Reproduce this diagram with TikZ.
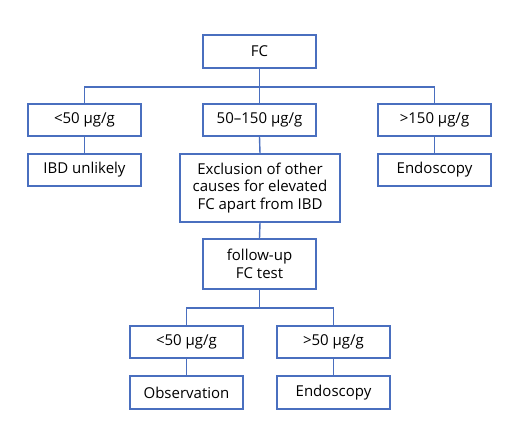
\documentclass[tikz,border=0pt]{standalone}
\usepackage{fontspec}
\setmainfont{Open Sans}
\definecolor{boxblue}{HTML}{4A6FBF}
\begin{document}
\begin{tikzpicture}[x=1pt,y=-1pt,
  box/.style={draw=boxblue,line width=1.4pt,fill=white,inner sep=0pt,align=center,font=\fontsize{15}{17.5}\selectfont},
  conn/.style={draw=boxblue,line width=1.4pt}]
\useasboundingbox[fill=white] (0,0) rectangle (520,444);
% helper: box by corners
\newcommand{\bx}[6]{\node[box,minimum width=#4-#2,minimum height=#5-#3] (#1) at ({(#2+#4)/2},{(#3+#5)/2}) {#6};}
\bx{fc}{203}{35}{316}{68}{FC}
\bx{lo}{28}{104}{141}{136}{<50 µg/g}
\bx{mid}{203}{104}{316}{136}{50–150 µg/g}
\bx{hi}{378}{104}{491}{136}{>150 µg/g}
\bx{ibd}{28}{154}{141}{186}{IBD unlikely}
\bx{excl}{180}{154}{340}{222}{Exclusion of other\\causes for elevated\\FC apart from IBD}
\bx{endo}{378}{154}{491}{186}{Endoscopy}
\bx{fu}{203}{239}{316}{289}{follow-up\\FC test}
\bx{lo2}{130}{326}{243}{358}{<50 µg/g}
\bx{hi2}{277}{326}{390}{358}{>50 µg/g}
\bx{obs}{130}{376}{243}{409}{Observation}
\bx{endo2}{277}{376}{390}{409}{Endoscopy}
\coordinate (b1) at (0,87);
\coordinate (b2) at (0,308);
\draw[conn] (fc.south) -- (mid.north);
\draw[conn] (lo.north) -- (lo.north |- b1) -- (hi.north |- b1) -- (hi.north);
\draw[conn] (lo.south) -- (ibd.north);
\draw[conn] (mid.south) -- (excl.north);
\draw[conn] (hi.south) -- (endo.north);
\draw[conn] (excl.south) -- (fu.north);
\draw[conn] (fu.south) -- (fu.south |- b2);
\draw[conn] (lo2.north) -- (lo2.north |- b2) -- (hi2.north |- b2) -- (hi2.north);
\draw[conn] (lo2.south) -- (obs.north);
\draw[conn] (hi2.south) -- (endo2.north);
\end{tikzpicture}
\end{document}
